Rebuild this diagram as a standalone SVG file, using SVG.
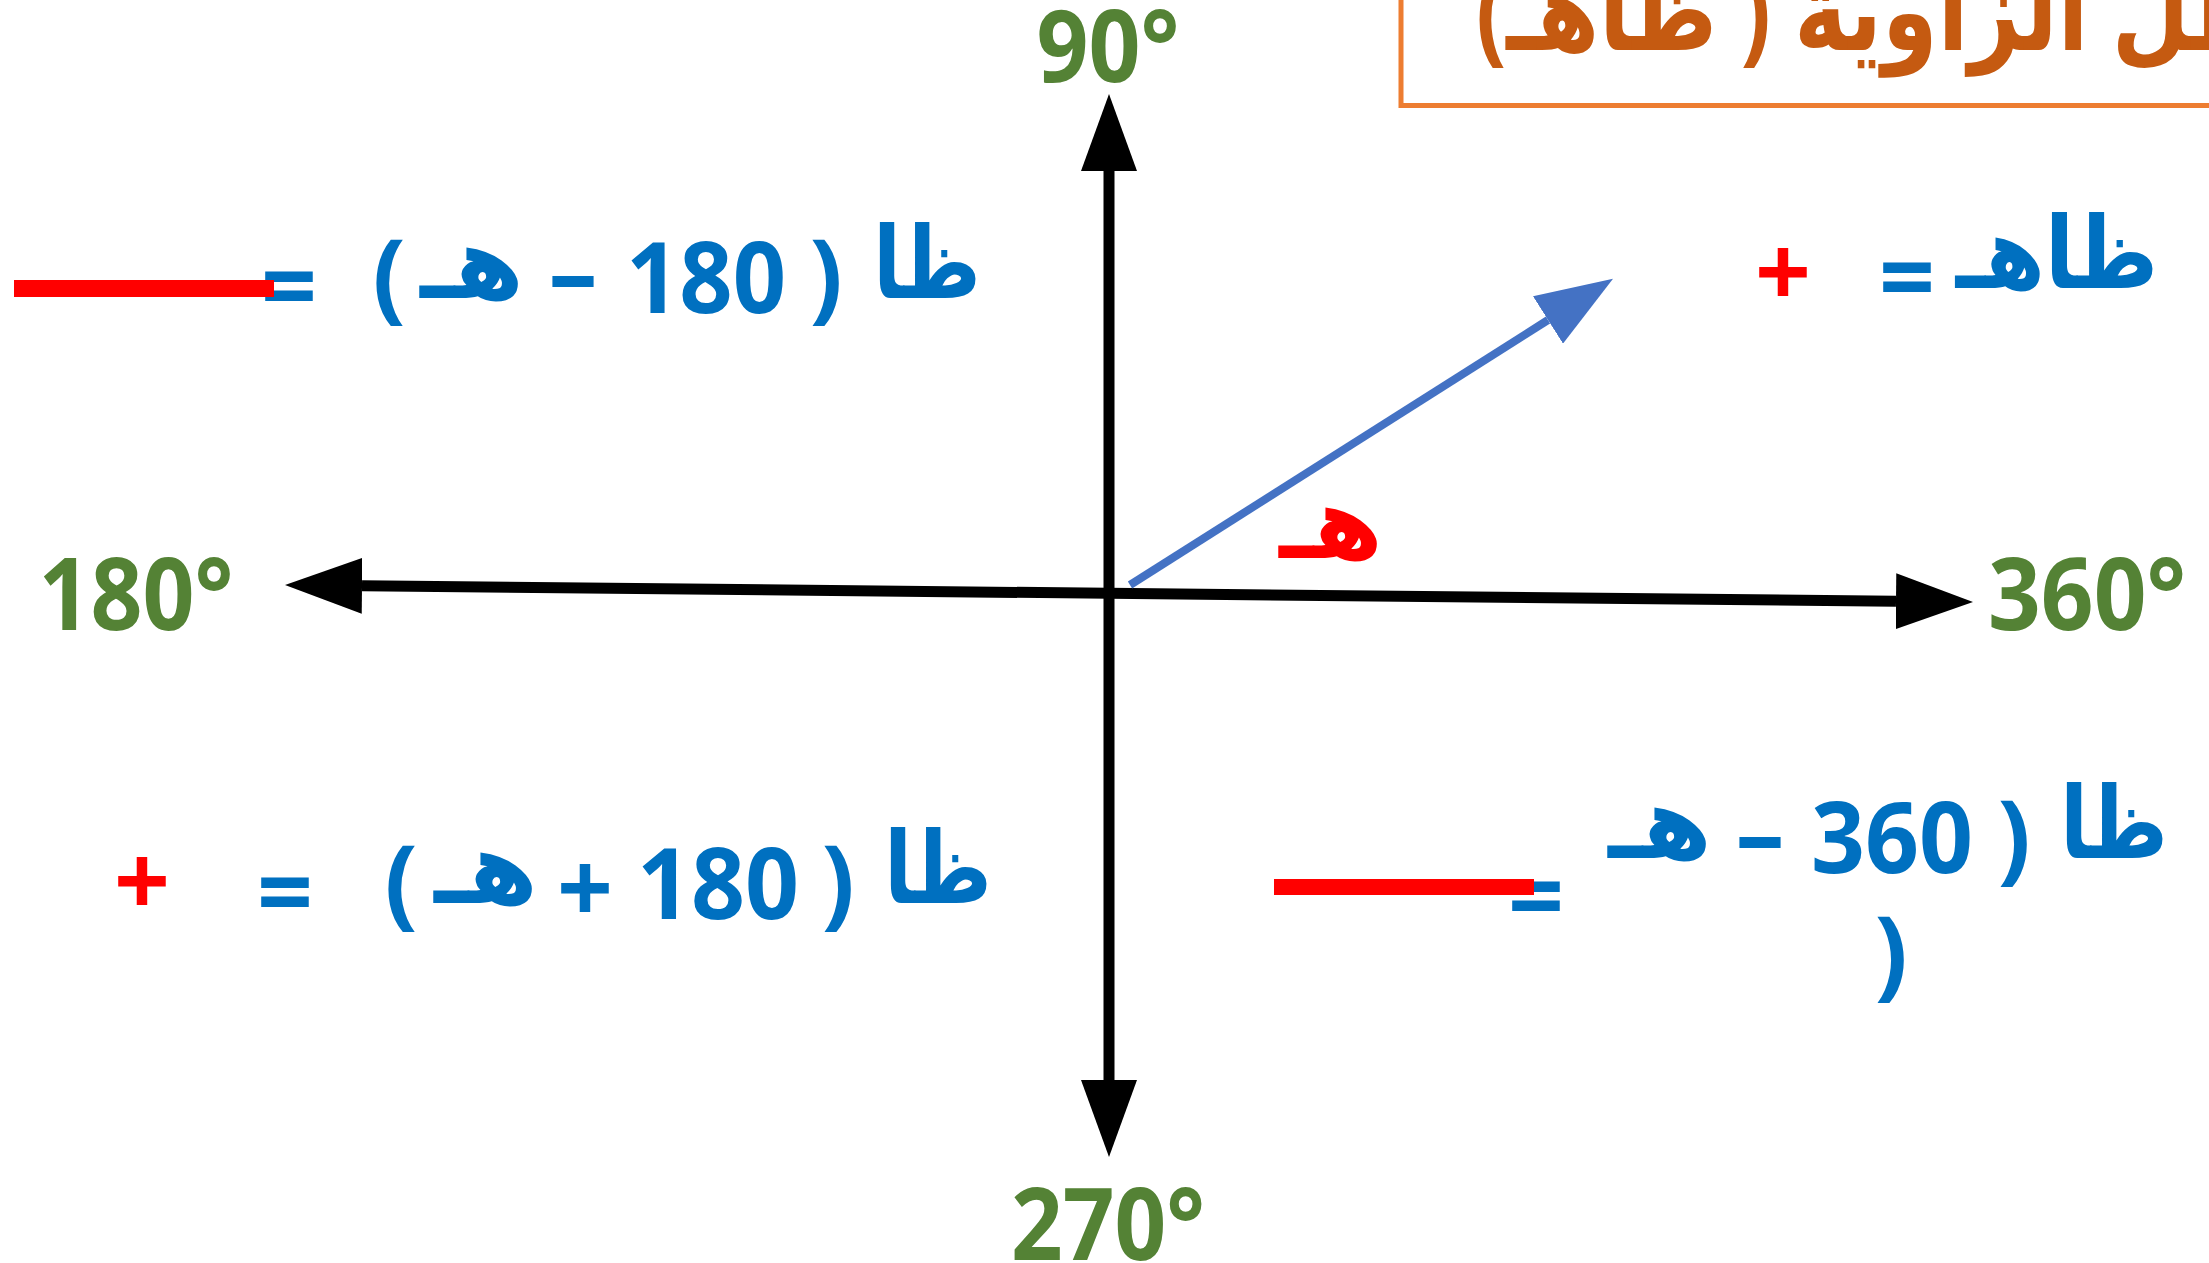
<svg xmlns="http://www.w3.org/2000/svg" width="2209" height="1263" viewBox="0 0 2209 1263">
<style>
  .lat { font-family: "Open Sans", "DejaVu Sans", sans-serif; font-weight: bold; font-size: 98px; text-anchor: middle; }
  .ar { font-family: "DejaVu Sans", sans-serif; font-weight: bold; font-size: 100px; text-anchor: middle; }
  .blue { fill: #0070C0; }
  .red { fill: #FF0000; }
  .deg { font-family: "Open Sans", sans-serif; font-weight: bold; font-size: 100px; text-anchor: middle; fill: #548235; }
  .title { font-family: "Open Sans", "DejaVu Sans", sans-serif; font-weight: bold; font-size: 112px; fill: #C55A11; }
  .axis { stroke: #000; stroke-width: 11; fill: none; }
  .vec { stroke: #4472C4; stroke-width: 8; fill: none; }
  .bar { fill: #FF0000; }
</style>
<defs>
  <marker id="ah" markerUnits="userSpaceOnUse" markerWidth="77" markerHeight="56" viewBox="0 0 77 56" refX="0" refY="28" orient="auto-start-reverse">
    <path d="M0,0 L77,28 L0,56 Z" fill="#000"/>
  </marker>
  <marker id="ahb" markerUnits="userSpaceOnUse" markerWidth="77" markerHeight="56" viewBox="0 0 77 56" refX="0" refY="28" orient="auto">
    <path d="M0,0 L77,28 L0,56 Z" fill="#4472C4"/>
  </marker>
</defs>

<g id="title">
  <rect x="1401" y="-60" width="1000" height="165.5" fill="none" stroke="#ED7D31" stroke-width="5"/>
  <text class="title" transform="translate(1476 50) scale(0.8 1)" x="0" y="0" direction="rtl" text-anchor="end">ظل الزاوية ( ظاهـ)</text>
</g>

<g id="connectors">
  <path class="axis" d="M362,585.8 L1896,601.2" marker-start="url(#ah)" marker-end="url(#ah)"/>
  <path class="axis" d="M1109,171 L1109,1080" marker-start="url(#ah)" marker-end="url(#ah)"/>
  <path class="vec" d="M1130,585 L1548,320" marker-end="url(#ahb)"/>
</g>

<g id="label-90"><text class="deg" x="1108" y="82" textLength="143" lengthAdjust="spacingAndGlyphs">90°</text></g>
<g id="label-180"><text class="deg" x="136" y="630" textLength="195" lengthAdjust="spacingAndGlyphs">180°</text></g>
<g id="label-360"><text class="deg" x="2087" y="630" textLength="198" lengthAdjust="spacingAndGlyphs">360°</text></g>
<g id="label-270"><text class="deg" x="1108" y="1260" textLength="194" lengthAdjust="spacingAndGlyphs">270°</text></g>

<g id="angle-label"><text class="ar red" x="1331" y="558">هـ</text></g>

<g id="formula-q1">
  <text class="ar blue" transform="translate(2057 288) scale(0.86 1)">ظاهـ</text>
  <text class="lat blue" x="1907" y="312">=</text>
  <text class="lat red" x="1783" y="307">+</text>
</g>

<g id="formula-q2">
  <text class="ar blue" transform="translate(927 298) scale(0.82 1)">ظا</text>
  <text class="lat blue" x="826" y="310">)</text>
  <text class="lat blue" x="706" y="313" textLength="160" lengthAdjust="spacingAndGlyphs">180</text>
  <text class="lat blue" x="573" y="308">–</text>
  <text class="ar blue" x="472" y="298">هـ</text>
  <text class="lat blue" x="389" y="310">(</text>
  <text class="lat blue" x="289" y="321">=</text>
  <rect class="bar" x="14" y="280" width="260" height="17"/>
</g>

<g id="formula-q3">
  <text class="ar blue" transform="translate(938 903) scale(0.82 1)">ظا</text>
  <text class="lat blue" x="838" y="916">)</text>
  <text class="lat blue" x="718" y="919" textLength="162" lengthAdjust="spacingAndGlyphs">180</text>
  <text class="lat blue" x="585" y="923">+</text>
  <text class="ar blue" x="486" y="903">هـ</text>
  <text class="lat blue" x="401" y="916">(</text>
  <text class="lat blue" x="285" y="927">=</text>
  <text class="lat red" x="142" y="916">+</text>
</g>

<g id="formula-q4">
  <text class="ar blue" transform="translate(2114 858) scale(0.82 1)">ظا</text>
  <text class="lat blue" x="2014" y="871">)</text>
  <text class="lat blue" x="1892" y="873" textLength="162" lengthAdjust="spacingAndGlyphs">360</text>
  <text class="lat blue" x="1760" y="869">–</text>
  <text class="ar blue" x="1660" y="858">هـ</text>
  <text class="lat blue" x="1891" y="987">)</text>
  <text class="lat blue" x="1536" y="931">=</text>
  <rect class="bar" x="1274" y="879" width="260" height="16"/>
</g>
</svg>
